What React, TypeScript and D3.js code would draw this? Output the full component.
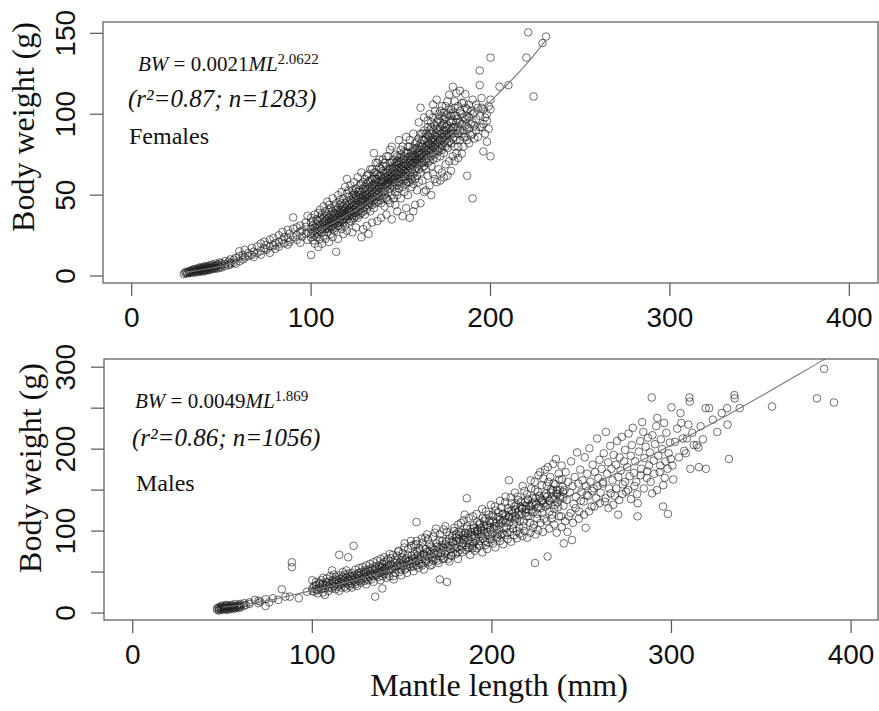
import React from 'react';
import * as d3 from 'd3';

// ---------- data ----------
const xTicks = [0, 100, 200, 300, 400];
const femaleYTicks = [0, 50, 100, 150];
const femaleYLabels = [0, 50, 100, 150];
const maleYTicks = [0, 50, 100, 150, 200, 250, 300];
const maleYLabels = [0, 100, 200, 300];

// fitted curves (mantle length mm, body weight g) as drawn
const femaleFit: number[][] = [[30, 2.2], [50, 6.2], [75, 14.5], [100, 26], [125, 41], [150, 60], [175, 82], [200, 108], [220, 131], [231, 146]];
const maleFit: number[][] = [[50, 7], [70, 13], [93, 24], [120, 38], [150, 58], [175, 78], [200, 100], [250, 150], [300, 205], [338, 250], [384, 308], [392, 318]];

// female columns: [mantle length, body weights...]
const femaleColumns: number[][] = [
  [29, 1.2], [30, 1.8, 2.6], [31, 2.2, 1.5], [32, 2.0, 3.1, 2.6], [33, 2.4, 3.4], [34, 1.9, 2.9, 3.8],
  [35, 2.6, 3.5, 4.4], [36, 2.3, 3.2, 4.1], [37, 2.9, 3.9, 4.8], [38, 2.6, 3.6, 4.5, 5.4], [39, 3.1, 4.2, 5.0],
  [40, 3.6, 4.6, 5.7, 2.9], [41, 3.3, 4.1, 5.2, 6.1], [42, 3.8, 4.7, 5.6], [43, 4.2, 5.1, 6.3, 3.6], [44, 4.0, 5.3, 6.6],
  [45, 4.6, 5.7, 7.2], [46, 4.3, 5.0, 6.2], [47, 5.1, 6.1, 7.7], [48, 4.7, 6.4, 7.1], [49, 5.5, 8.3], [50, 5.2, 6.7, 7.9],
  [52, 6.1, 7.4, 9.2], [54, 6.8, 8.9], [55, 7.2, 8.1, 10.3], [57, 8.3, 10.1], [58, 7.6, 11.2], [60, 9.1, 12.4, 15.3],
  [62, 10.2, 13.1], [63, 11.4, 16.2], [65, 12.3, 14.2], [67, 13.1, 17.4], [68, 11.8, 15.1], [70, 14.2, 18.3],
  [72, 15.4, 20.1, 13.2], [74, 17.2, 21.3], [75, 16.1, 19.2], [77, 18.4, 22.5, 14.3], [79, 19.2, 23.6], [80, 20.3, 16.8],
  [82, 21.1, 25.2, 18.1], [84, 22.4, 27.3], [85, 20.2, 24.1], [87, 23.3, 28.5, 19.4], [88, 26.2, 21.1],
  [90, 24.1, 36.2, 29.3], [92, 25.2, 22.4, 30.1], [94, 27.3, 31.2, 20.5], [95, 24.4, 28.1], [97, 26.2, 30.4, 33.1],
  [98, 22.3, 27.1, 37.2],
  [100, 13, 24, 29, 33, 26, 36], [101, 27, 22, 31, 34], [102, 20, 30, 25, 38, 28], [103, 32, 24, 29, 35, 27],
  [104, 18, 26, 34, 30, 39], [105, 31, 23, 28, 41, 36], [106, 27, 35, 20, 32, 29, 38], [107, 33, 25, 43, 30, 36],
  [108, 29, 37, 23, 34, 40, 31], [109, 35, 27, 46, 32, 38, 30], [110, 21, 33, 41, 29, 36, 44, 31],
  [111, 38, 30, 35, 26, 42, 33], [112, 24, 36, 48, 31, 40, 34, 29], [113, 37, 32, 43, 28, 35, 39],
  [114, 15, 34, 41, 30, 45, 38, 36], [115, 23, 39, 33, 50, 36, 42, 31], [116, 35, 44, 31, 38, 40, 47, 33],
  [117, 41, 29, 37, 52, 34, 45, 39], [118, 26, 38, 43, 35, 48, 40, 33], [119, 42, 36, 55, 31, 39, 45, 37],
  [120, 28, 40, 46, 35, 60, 43, 38, 51], [121, 44, 33, 41, 49, 37, 53, 40], [122, 38, 47, 34, 56, 42, 45, 40],
  [123, 27, 43, 37, 50, 40, 46, 35, 53], [124, 41, 48, 36, 58, 44, 39, 51], [125, 30, 45, 39, 54, 42, 48, 37, 50],
  [126, 47, 40, 61, 44, 36, 52, 49], [127, 38, 50, 43, 56, 46, 41, 53], [128, 24, 44, 64, 48, 39, 52, 46, 57],
  [129, 29, 47, 42, 58, 50, 45, 54, 40], [130, 46, 52, 38, 60, 49, 43, 55, 47], [131, 31, 50, 44, 57, 41, 53, 48, 62],
  [132, 26, 48, 54, 43, 63, 51, 46, 58], [133, 52, 45, 59, 40, 55, 49, 66, 47], [134, 33, 50, 56, 44, 66, 53, 48, 60],
  [135, 76, 54, 47, 61, 42, 57, 51, 64], [136, 49, 58, 45, 64, 52, 55, 60, 70], [137, 34, 56, 70, 50, 60, 46, 53, 63],
  [138, 52, 47, 67, 58, 55, 62, 49, 72], [139, 36, 57, 62, 50, 54, 66, 59, 45], [140, 55, 72, 48, 60, 65, 52, 58, 68],
  [141, 43, 59, 53, 63, 56, 70, 50, 61], [142, 38, 57, 68, 61, 48, 55, 64, 74], [143, 60, 52, 74, 58, 65, 47, 62, 56],
  [144, 45, 63, 57, 66, 54, 70, 60, 78], [145, 35, 80, 59, 50, 64, 70, 56, 61, 67], [146, 62, 55, 67, 48, 60, 72, 65, 58],
  [147, 44, 64, 75, 58, 68, 52, 61, 70], [148, 40, 66, 60, 56, 71, 63, 50, 69, 74], [149, 61, 84, 67, 54, 70, 63, 58, 73],
  [150, 48, 66, 78, 60, 71, 57, 64, 69, 75], [151, 37, 63, 68, 55, 72, 61, 66, 80], [152, 52, 70, 65, 59, 74, 62, 68, 77],
  [153, 42, 86, 66, 57, 71, 64, 69, 76, 60], [154, 50, 68, 76, 62, 73, 65, 58, 80], [155, 36, 70, 80, 64, 58, 74, 67, 71, 84],
  [156, 55, 72, 66, 77, 62, 69, 74, 60], [157, 40, 88, 68, 73, 63, 79, 70, 57, 75], [158, 44, 70, 78, 65, 74, 60, 82, 72],
  [159, 53, 72, 83, 67, 76, 70, 62, 79], [160, 95, 69, 75, 58, 80, 72, 66, 85, 77], [161, 45, 104, 73, 78, 64, 82, 70, 75, 88],
  [162, 59, 76, 88, 70, 80, 73, 67, 84], [163, 52, 98, 74, 79, 68, 84, 77, 71, 90], [164, 53, 85, 72, 80, 75, 66, 88, 78],
  [165, 62, 92, 78, 83, 73, 87, 70, 81, 96], [166, 56, 100, 76, 82, 71, 86, 79, 90], [167, 50, 84, 78, 92, 74, 81, 68, 88, 95],
  [168, 63, 106, 80, 90, 76, 85, 72, 83, 98], [169, 60, 87, 79, 93, 75, 84, 81, 102], [170, 58, 109, 82, 95, 78, 88, 73, 86, 91],
  [171, 66, 85, 80, 97, 77, 90, 83, 100], [172, 59, 102, 84, 92, 79, 88, 74, 95], [173, 64, 88, 81, 99, 85, 93, 78, 105],
  [174, 61, 97, 83, 90, 76, 86, 94, 101], [175, 69, 105, 87, 80, 92, 84, 98, 90], [176, 62, 100, 85, 79, 93, 88, 82, 108],
  [177, 71, 112, 87, 96, 83, 91, 103], [178, 65, 103, 88, 82, 95, 90, 99], [179, 74, 117, 85, 96, 92, 101, 88],
  [180, 71, 108, 86, 99, 92, 80, 104], [181, 76, 113, 90, 99, 84, 95], [182, 73, 105, 88, 97, 80, 92],
  [183, 95, 114.5, 84, 102, 90], [184, 75.6, 100, 88, 94, 107], [185, 80, 107, 90, 98, 86], [186, 112.5, 86, 97, 93, 104],
  [187, 62, 103, 92, 84, 99], [188, 82, 98, 106, 91], [189, 94, 87, 102], [190, 48, 109, 88, 95, 100], [191, 85, 101, 93],
  [192, 90, 106, 97], [193, 86, 104], [194, 118, 127, 99, 92], [195, 92, 104, 110], [196, 77, 94, 103], [197, 88, 98],
  [198, 83, 100, 96], [199, 91, 105], [200, 74, 103, 135, 109], [205, 117], [210, 118],
  [220, 135], [221, 150.6], [224, 111], [229, 144], [231, 148],
];

// male columns for small individuals: [mantle length, body weights...]
const maleColumns: number[][] = [
  [47, 4, 6], [48, 5, 7, 3], [49, 4, 6, 8], [50, 5, 7, 9], [51, 4, 6, 8], [52, 5, 7, 9, 10], [53, 6, 8, 4],
  [54, 5, 7, 9], [55, 6, 8, 10], [56, 7, 9, 5], [57, 6, 8, 11], [58, 7, 9], [59, 8, 10, 6], [60, 7, 9, 11],
  [62, 9, 12], [63, 10], [65, 11, 13], [68, 16], [70, 12, 15], [71, 14], [74, 8.5, 17], [76, 13], [78, 18],
  [81, 16], [83, 29], [85, 20], [87.5, 20], [88.6, 56, 62], [92.5, 18], [97, 26],
  [100, 40, 30, 27], [101, 26, 33], [102, 29, 38, 34], [103, 28, 24], [104, 37, 31, 35], [105, 40, 29],
  [106, 33, 25, 43, 36], [107, 22, 30], [108, 34, 42, 38], [109, 37, 27, 32], [110, 31, 45, 35],
  [111, 52, 36, 30, 40], [112, 33, 47, 38], [113, 29, 44, 36, 41], [114, 40, 32], [115, 71, 38, 46, 27, 34],
  [116, 42, 31, 37], [117, 36, 44, 50, 40], [118, 32, 39, 47], [119, 43, 30, 37, 52], [120, 68, 35, 41, 48],
  [121, 45, 33, 39], [122, 36, 42, 49, 31, 44], [123, 82, 40, 46], [124, 38, 53, 43, 35], [125, 41, 47, 33],
  [126, 45, 55, 39, 49], [127, 43, 50, 37], [128, 46, 56, 41], [129, 39, 52, 48, 44], [130, 42, 58, 35, 50],
  [131, 46, 40, 53], [132, 44, 51, 60, 48], [133, 47, 41, 55], [134, 45, 52, 62, 38], [135, 20, 48, 57, 53],
  [136, 46, 54, 64], [137, 49, 44, 58, 52], [138, 55, 66, 40, 50], [139, 30, 45, 60, 56, 51], [140, 48, 68, 53, 62],
];

// male individuals above 140 mm: [mantle length, body weight]
const malePairs: number[][] = [
  [140.4, 55], [141.2, 63], [141.7, 48], [142.5, 58], [143.3, 52], [143.8, 67], [144.6, 57], [145.1, 45], [145.9, 61], [146.3, 54],
  [147.2, 70], [147.6, 59], [148.4, 50], [149.1, 64], [149.5, 57], [150.3, 73], [150.8, 62], [151.6, 53], [152.2, 67], [152.9, 59],
  [153.4, 78], [154.1, 64], [154.7, 56], [155.3, 70], [155.8, 61], [156.6, 83], [157.2, 67], [157.9, 58], [158.3, 74], [158.8, 64],
  [158, 111], [159.6, 79], [160.1, 69], [160.7, 60], [161.4, 86], [161.9, 72], [162.6, 65], [163.1, 78], [163.7, 70], [164.4, 90],
  [164.9, 62], [165.5, 75], [166.2, 81], [166.8, 68], [167.3, 93], [168.1, 77], [168.6, 71], [169.2, 85], [169.9, 64], [170.5, 79],
  [171.1, 96], [171.6, 73], [171, 41], [172.4, 88], [172.9, 80], [173.5, 67], [174.2, 84], [174.8, 99], [175.3, 76], [175, 38],
  [176.1, 90], [176.7, 82], [177.2, 70], [177.9, 94], [178.5, 86], [179.1, 104], [179.6, 79], [180.3, 92], [180.9, 74], [181.5, 99],
  [182.2, 87], [182.8, 110], [183.3, 81], [184.1, 95], [184.6, 89], [185.4, 77], [185.9, 103], [186, 140], [186.6, 92], [187.2, 116],
  [187.8, 85], [188.4, 99], [189.1, 79], [189.7, 107], [190.2, 94], [190.9, 88], [191.5, 121], [192.1, 101], [192.7, 84], [193.4, 110],
  [193.9, 97], [194.6, 127], [195.2, 91], [195.8, 106], [196.3, 115], [197.1, 99], [197.7, 86], [198.2, 120], [198.9, 104], [199.5, 132],
  [200.1, 96], [200.8, 112], [201.4, 106], [202.1, 125], [202.6, 91], [203.3, 117], [203.9, 102], [204.5, 137], [205.2, 110], [205.7, 97],
  [206.4, 121], [207.1, 114], [207.6, 142], [208.3, 104], [208.9, 128], [209.5, 162], [209.6, 117], [210.2, 99], [210.9, 134], [211.5, 122],
  [212.2, 109], [212.8, 147], [213.3, 126], [214.1, 115], [214.7, 138], [215.2, 104], [215.9, 130], [216.5, 121], [217.1, 155], [217.8, 112],
  [218.4, 135], [219.1, 127], [219.6, 145], [220.3, 118], [220.9, 131], [221.6, 162], [222.2, 124], [222.7, 140], [223.4, 108], [224, 61],
  [224.1, 150], [224.6, 133], [225.3, 121], [225.9, 168], [226.4, 143], [227.2, 128], [227.8, 156], [228.3, 137], [229.1, 115], [229.6, 175],
  [230.2, 146], [230.9, 132], [231, 69], [231.5, 160], [232.1, 124], [232.8, 151], [233.4, 140], [234.1, 182], [234.7, 127], [235.3, 157],
  [235.9, 146], [236.6, 135], [237.2, 170], [237.8, 150], [238.5, 118], [239.1, 163], [239.7, 141],
  [140.9, 51], [141.5, 57], [142.1, 66], [142.9, 45], [143.6, 60], [144.2, 54], [144.9, 71], [145.6, 56], [146.1, 49], [146.8, 65],
  [147.4, 58], [148.1, 76], [148.7, 61], [149.3, 53], [149.8, 68], [150.5, 58], [151.2, 80], [151.9, 65], [152.5, 55], [153.1, 71],
  [153.7, 63], [154.4, 60], [155.1, 82], [155.6, 66], [156.2, 57], [156.9, 72], [157.5, 63], [158.1, 88], [158.6, 70], [159.3, 61],
  [159.9, 76], [160.4, 66], [161.1, 58], [161.6, 80], [162.3, 71], [162.9, 92], [163.4, 63], [164.1, 75], [164.7, 68], [165.2, 84],
  [165.9, 72], [166.5, 59], [167.1, 79], [167.7, 73], [168.3, 98], [168.9, 66], [169.5, 81], [170.1, 74], [170.8, 89], [171.4, 69],
  [172.1, 83], [172.6, 77], [173.2, 102], [173.8, 72], [174.5, 87], [175.1, 80], [175.7, 66], [176.4, 95], [176.9, 78], [177.6, 88],
  [178.2, 74], [178.8, 100], [179.4, 84], [180.1, 96], [180.6, 80], [181.2, 108], [181.8, 90], [182.5, 77], [183.1, 98], [183.7, 85],
  [184.3, 113], [184.9, 92], [185.6, 83], [186.1, 106], [186.8, 97], [187.5, 80], [188.1, 103], [188.7, 93], [189.4, 118], [189.9, 86],
  [190.6, 100], [191.2, 92], [191.8, 111], [192.4, 97], [193.1, 82], [193.6, 104], [194.3, 94], [194.9, 116], [195.5, 100], [196.1, 88],
  [196.7, 124], [197.4, 107], [197.9, 95], [198.6, 113], [199.2, 101], [199.8, 90], [200.4, 120], [201.1, 103], [201.7, 130], [202.3, 110],
  [202.9, 97], [203.6, 123], [204.2, 108], [204.8, 95], [205.4, 129], [206.1, 113], [206.7, 104], [207.3, 135], [207.9, 119], [208.6, 98],
  [209.2, 124], [209.8, 111], [210.5, 141], [211.2, 116], [211.8, 103], [212.5, 130], [213.1, 119], [213.7, 100], [214.4, 142], [214.9, 124],
  [215.6, 112], [216.2, 136], [216.8, 127], [217.5, 106], [218.1, 149], [218.7, 131], [219.3, 118], [219.9, 139], [220.6, 126], [221.2, 110],
  [221.9, 152], [222.5, 134], [223.1, 123], [223.8, 160], [224.4, 140], [225.1, 115], [225.6, 148], [226.2, 130], [226.9, 172], [227.5, 138],
  [228.1, 122], [228.7, 164], [229.3, 143], [229.9, 130], [230.6, 155], [231.2, 178], [231.8, 137], [232.5, 166], [233.1, 147], [233.6, 120],
  [234.4, 158], [234.9, 139], [235.6, 188], [236.2, 150], [236.9, 129], [237.5, 163], [238.1, 143], [238.8, 180], [239.4, 154], [239.9, 131],
  [141.3, 43], [143.1, 72], [145.4, 41], [147.9, 75], [149.6, 46], [151.4, 85], [152.7, 49], [154.9, 88], [156.4, 51], [157.7, 84],
  [159.1, 55], [160.9, 91], [162.1, 53], [163.9, 96], [165.7, 58], [167.4, 64], [168.8, 103], [170.3, 61], [172.8, 66], [174.1, 106],
  [176.3, 63], [177.4, 70], [179.9, 72], [181.1, 66], [183.5, 74], [184.8, 120], [186.4, 80], [187.9, 71], [189.2, 82], [190.4, 76],
  [191.7, 79], [193.3, 88], [194.7, 74], [196.5, 83], [197.3, 78], [198.8, 90], [200.6, 85], [201.9, 80], [203.1, 93], [204.6, 88],
  [206.3, 84], [207.4, 95], [208.8, 90], [210.7, 87], [212.3, 95], [213.9, 91], [215.4, 97], [216.9, 94], [218.2, 100], [219.7, 92],
  [221.4, 98], [222.9, 104], [224.3, 96], [225.8, 101], [227.1, 110], [228.6, 99], [230.4, 112], [231.9, 103], [233.3, 115], [234.6, 108],
  [236.1, 98], [237.4, 118], [238.9, 105], [240.8, 112], [242.1, 99], [243.8, 122], [245.2, 110], [246.6, 128], [248.4, 115], [249.6, 137],
  [251.3, 120], [252.8, 144], [254.1, 124], [255.9, 149], [257.1, 130], [258.8, 155], [260.1, 134], [261.9, 160], [263.3, 140], [264.9, 128],
  [266.2, 146], [267.6, 132], [269.3, 152], [270.9, 138], [272.6, 145], [274.1, 160], [275.9, 150], [277.4, 139], [279.4, 155], [280.8, 145],
  [282.9, 168], [284.6, 152], [286.4, 173], [288.4, 160], [290.4, 170], [291.9, 150], [293.8, 180], [296.2, 165], [297.8, 176], [299.6, 188],
  [180.4, 88], [181.9, 95], [183.9, 90], [185.1, 98], [186.9, 89], [188.9, 95], [190.1, 104], [191.9, 99], [192.9, 108], [194.1, 101],
  [195.9, 112], [197.6, 104], [199.1, 110], [200.9, 118], [202.4, 106], [204.4, 114], [205.9, 120], [207.7, 110], [209.4, 118], [210.8, 125],
  [212.7, 114], [213.6, 132], [215.1, 120], [216.6, 128], [218.9, 122], [220.1, 138], [221.7, 130], [223.6, 135], [225.4, 128], [226.7, 140],
  [228.9, 134], [230.8, 142], [232.3, 137], [233.9, 150], [235.1, 132], [236.4, 145], [237.9, 140], [239.6, 148],
  [240, 85], [240.5, 150], [241.1, 172], [241.7, 138], [242.3, 160], [242.9, 118], [243.5, 147], [244.1, 185], [244.6, 89], [244.9, 155],
  [245.5, 133], [246.1, 166], [246.8, 142], [247.4, 196], [248.1, 158], [248.6, 124], [249.2, 175], [249.9, 148], [250.5, 162], [251.1, 136],
  [251.7, 190], [252.2, 104], [252.4, 155], [253.1, 170], [253.7, 143], [254.3, 201], [254.9, 160], [255.5, 130], [256.1, 181], [256.8, 152],
  [257.4, 172], [258.1, 140], [258.6, 213], [259.2, 165], [259.9, 187], [260.5, 147], [261.1, 176], [261.7, 158], [262.3, 195], [262.9, 136],
  [263.5, 221], [264.1, 170], [264.7, 184], [265.3, 152], [265.9, 204], [266.6, 176], [267.2, 162], [267.8, 193], [268.4, 143], [269.1, 181],
  [269.7, 210], [270.3, 120], [270.4, 166], [271.1, 190], [271.7, 174], [272.3, 215], [272.9, 157], [273.6, 185], [274.2, 199], [274.8, 148],
  [275.4, 178], [276.1, 219], [276.7, 167], [277.3, 192], [277.9, 205], [278.5, 226], [279.1, 171], [279.8, 185], [280.4, 160], [281.1, 118],
  [281.2, 134], [281.8, 197], [282.5, 210], [283.1, 176], [283.7, 233], [284.3, 221], [284.9, 189], [285.6, 203], [286.2, 165], [286.9, 214],
  [287.5, 180], [288.1, 196], [289, 263], [289.2, 146], [289.4, 217], [290.1, 186], [290.8, 206], [291.5, 228], [292.1, 238], [292.7, 192],
  [293.4, 172], [294.1, 212], [294.8, 200], [295.3, 130], [295.4, 156], [295.9, 232], [296.6, 185], [297.2, 220], [298, 121], [298.4, 195],
  [299.1, 208], [300, 251], [300.5, 180], [301, 163], [302, 209], [303.2, 225], [304.1, 190], [305, 244], [305.5, 232], [306.3, 213],
  [307.1, 198], [308, 195], [308.6, 213], [309.4, 230], [310, 263], [310.2, 258], [310.5, 176], [311.6, 220], [312.4, 205], [314, 205],
  [315, 202], [315.3, 178], [316.2, 228], [317.5, 212], [319, 250], [319.2, 176], [321, 250], [323, 236], [325.5, 221], [328, 244],
  [331, 250], [331.2, 230], [332, 188], [335, 266], [335.2, 262], [338, 250], [356, 252], [381, 262], [385, 298], [390.5, 257],
];

const flatten = (cols: number[][]) => cols.flatMap(([ml, ...bws]) => bws.map(bw => [ml, bw]));

const SERIF = "'Liberation Serif', 'Times New Roman', serif";
const SANS = "'Liberation Sans', Arial, sans-serif";

type PanelProps = {
  box: { left: number; top: number; right: number; bottom: number };
  xDomain: [number, number];
  yDomain: [number, number];
  yTicks: number[];
  yLabels: number[];
  points: number[][];
  fit: number[][];
  clipId: string;
  xLabelY: number;
  titleX: number;
  titleY: number;
  coef: string;
  exp: string;
  stats: string;
  sex: string;
  eqX: number;
  eqY: number;
  statX: number;
  statY: number;
  sexX: number;
  sexY: number;
};

function Panel(p: PanelProps) {
  const x = d3.scaleLinear().domain(p.xDomain).range([p.box.left, p.box.right]);
  const y = d3.scaleLinear().domain(p.yDomain).range([p.box.bottom, p.box.top]);
  const line = d3.line<number[]>().x(d => x(d[0])).y(d => y(d[1])).curve(d3.curveCatmullRom);
  const axisColor = '#555';
  return (
    <g>
      <defs>
        <clipPath id={p.clipId}>
          <rect x={p.box.left} y={p.box.top} width={p.box.right - p.box.left} height={p.box.bottom - p.box.top} />
        </clipPath>
      </defs>
      <g clipPath={`url(#${p.clipId})`}>
        {p.points.map((d, i) => (
          <circle key={i} cx={x(d[0])} cy={y(d[1])} r={3.8} fill="none" stroke="#1a1a1a" strokeOpacity={0.7} strokeWidth={0.9} />
        ))}
        <path d={line(p.fit) || ''} fill="none" stroke="#777" strokeWidth={1.1} />
      </g>
      <rect x={p.box.left} y={p.box.top} width={p.box.right - p.box.left} height={p.box.bottom - p.box.top}
        fill="none" stroke={axisColor} strokeWidth={1.2} />
      {xTicks.map(t => (
        <g key={'x' + t}>
          <line x1={x(t)} x2={x(t)} y1={p.box.bottom} y2={p.box.bottom + 13} stroke={axisColor} strokeWidth={1.2} />
          <text x={x(t)} y={p.xLabelY} textAnchor="middle" fontFamily={SANS} fontSize={28} fill="#111">{t}</text>
        </g>
      ))}
      {p.yTicks.map(t => (
        <line key={'y' + t} x1={p.box.left} x2={p.box.left - 13} y1={y(t)} y2={y(t)} stroke={axisColor} strokeWidth={1.2} />
      ))}
      {p.yLabels.map(t => (
        <text key={'yl' + t} transform={`translate(75,${y(t)}) rotate(-90)`} textAnchor="middle" fontFamily={SANS} fontSize={28} fill="#111">{t}</text>
      ))}
      <text transform={`translate(${p.titleX},${p.titleY}) rotate(-90)`} textAnchor="middle" fontFamily={SERIF} fontSize={32} fill="#111">Body weight (g)</text>
      <text x={p.eqX} y={p.eqY} fontFamily={SERIF} fontSize={21} fill="#111">
        <tspan fontStyle="italic">BW</tspan>
        <tspan>{' = ' + p.coef}</tspan>
        <tspan fontStyle="italic">ML</tspan>
        <tspan fontSize={15} dy={-7}>{p.exp}</tspan>
      </text>
      <text x={p.statX} y={p.statY} fontFamily={SERIF} fontSize={25} fontStyle="italic" fill="#111">{p.stats}</text>
      <text x={p.sexX} y={p.sexY} fontFamily={SERIF} fontSize={24} fill="#111">{p.sex}</text>
    </g>
  );
}

export default function App() {
  const females = flatten(femaleColumns);
  const males = [...flatten(maleColumns), ...malePairs];
  return (
    <div style={{ position: 'absolute', left: 0, top: 0 }}>
      <svg width={879} height={711} style={{ display: 'block', background: '#fff' }}>
        <Panel
          box={{ left: 103, top: 22, right: 878, bottom: 283 }}
          xDomain={[-16, 416]}
          yDomain={[-4.3, 157]}
          yTicks={femaleYTicks}
          yLabels={femaleYLabels}
          points={females}
          fit={femaleFit}
          clipId="clipF"
          xLabelY={327}
          titleX={34}
          titleY={127}
          coef="0.0021"
          exp="2.0622"
          stats="(r²=0.87; n=1283)"
          sex="Females"
          eqX={138} eqY={71}
          statX={128} statY={107}
          sexX={129} sexY={144}
        />
        <Panel
          box={{ left: 104, top: 359, right: 878, bottom: 620 }}
          xDomain={[-16, 415]}
          yDomain={[-8.5, 310]}
          yTicks={maleYTicks}
          yLabels={maleYLabels}
          points={males}
          fit={maleFit}
          clipId="clipM"
          xLabelY={664}
          titleX={41}
          titleY={468}
          coef="0.0049"
          exp="1.869"
          stats="(r²=0.86; n=1056)"
          sex="Males"
          eqX={135} eqY={408}
          statX={132} statY={446}
          sexX={136} sexY={491}
        />
        <text x={499} y={696} textAnchor="middle" fontFamily={SERIF} fontSize={32} fill="#111">Mantle length (mm)</text>
      </svg>
    </div>
  );
}
